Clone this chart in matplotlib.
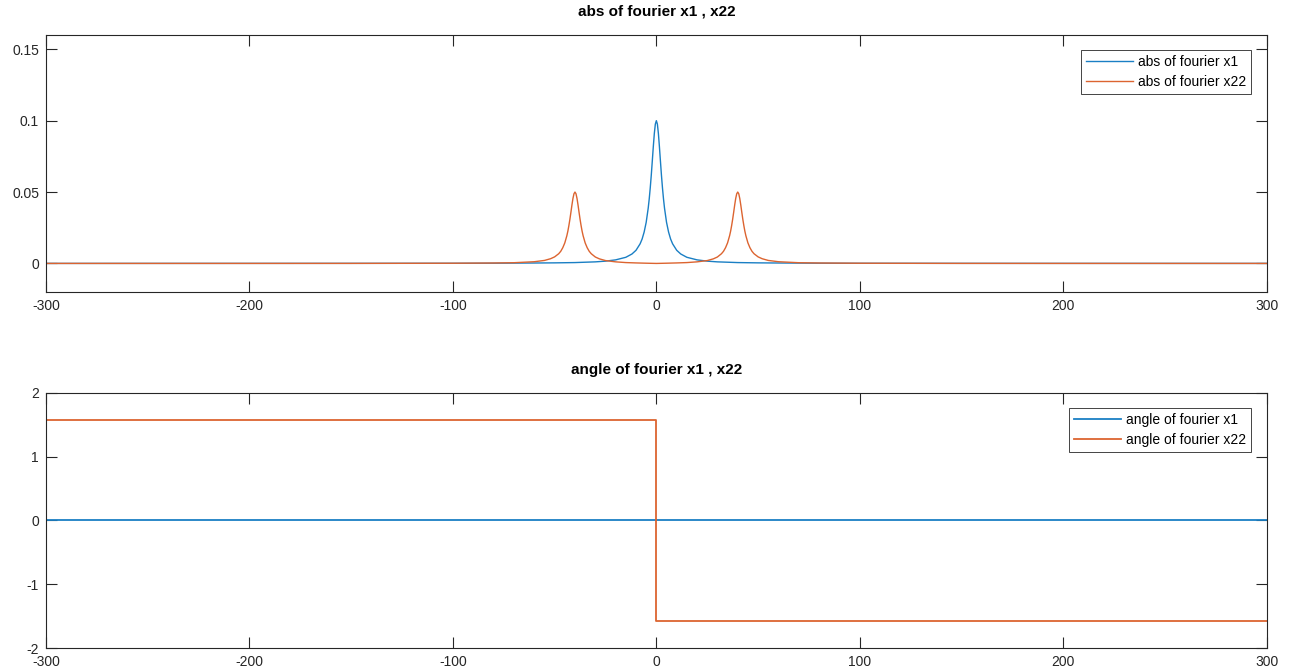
import numpy as np
import matplotlib.pyplot as plt

plt.rcParams['font.family'] = ['Liberation Sans', 'DejaVu Sans']
plt.rcParams['axes.unicode_minus'] = False

# positive half of the frequency axis
f_half = [0, 0.5, 1, 1.5, 2, 2.5, 3, 3.5, 4, 5, 6, 7, 8, 10, 12, 15, 20, 25, 30,
          40, 50, 60, 80, 100, 150, 200, 300]
abs_x1_half = [0.1000, 0.0976, 0.0910, 0.0818, 0.0717, 0.0618, 0.0530, 0.0453, 0.0388,
               0.0288, 0.0220, 0.0171, 0.0137, 0.0092, 0.0066, 0.0043, 0.0025, 0.0016,
               0.0011, 0.0006, 0.0004, 0.0003, 0.00016, 0.0001, 0.00005, 0.00003, 0.00001]

f22_half = [0, 5, 10, 15, 20, 25, 28, 30, 32, 33, 34, 35, 36, 36.5, 37, 37.5, 38, 38.5,
            39, 39.5, 40, 40.5, 41, 41.5, 42, 42.5, 43, 43.5, 44, 45, 46, 47, 48, 50,
            52, 55, 60, 70, 80, 100, 150, 200, 300]
abs_x22_half = [0.0, 0.00016, 0.00035, 0.0006, 0.0011, 0.0020, 0.0032, 0.0045, 0.0068,
                0.0085, 0.0110, 0.0144, 0.0194, 0.0226, 0.0265, 0.0309, 0.0358, 0.0409,
                0.0455, 0.0488, 0.0500, 0.0488, 0.0455, 0.0409, 0.0358, 0.0309, 0.0265,
                0.0226, 0.0194, 0.0144, 0.0110, 0.0085, 0.0068, 0.0046, 0.0033, 0.0021,
                0.0012, 0.0005, 0.0003, 0.00014, 0.00004, 0.00002, 0.00001]

# phase
f_ang1 = [-300, 300]
ang_x1 = [0.0, 0.0]
f_ang22 = [-300, 0, 0, 300]
ang_x22 = [1.5708, 1.5708, -1.5708, -1.5708]


def mirror(f, v):
    f = np.array(f)
    v = np.array(v)
    return np.concatenate([-f[:0:-1], f]), np.concatenate([v[:0:-1], v])


f1, a1 = mirror(f_half, abs_x1_half)
f22, a22 = mirror(f22_half, abs_x22_half)

blue = '#1a7fc4'
orange = '#dc6430'
dark = '#262626'


def style(ax):
    ax.tick_params(direction='in', length=8, width=0.8, color=dark, labelcolor=dark,
                   labelsize=10, top=True, right=True, pad=5)
    for s in ax.spines.values():
        s.set_color(dark)
        s.set_linewidth(0.8)
    ax.set_xlim(-300, 300)
    ax.set_xticks(np.arange(-300, 301, 100))


def legend(ax):
    lg = ax.legend(loc='upper right', fontsize=10, fancybox=False, edgecolor=dark,
                   framealpha=1, handlelength=3.4, handletextpad=0.4,
                   borderaxespad=1.1, borderpad=0.35, labelspacing=0.4)
    lg.get_frame().set_linewidth(0.6)


fig = plt.figure(figsize=(12.89, 6.72), dpi=100)
ax1 = fig.add_axes([0.0357, 0.5655, 0.947, 0.3824])
ax2 = fig.add_axes([0.0357, 0.0357, 0.947, 0.3795])

ax1.plot(f1, a1, color=blue, lw=1.0, label='abs of fourier x1')
ax1.plot(f22, a22, color=orange, lw=1.0, label='abs of fourier x22')
style(ax1)
ax1.set_ylim(-0.02, 0.16)
ax1.set_yticks([0, 0.05, 0.1, 0.15])
ax1.set_yticklabels(['0', '0.05', '0.1', '0.15'])
ax1.set_title('abs of fourier x1 , x22', fontsize=11, fontweight='bold', color='black', pad=14)
legend(ax1)

ax2.plot(f_ang1, ang_x1, color=blue, lw=1.3, label='angle of fourier x1')
ax2.plot(f_ang22, ang_x22, color=orange, lw=1.3, label='angle of fourier x22')
style(ax2)
ax2.set_ylim(-2, 2)
ax2.set_yticks([-2, -1, 0, 1, 2])
ax2.set_title('angle of fourier x1 , x22', fontsize=11, fontweight='bold', color='black', pad=14)
legend(ax2)

fig.savefig('out.png', dpi=100)
